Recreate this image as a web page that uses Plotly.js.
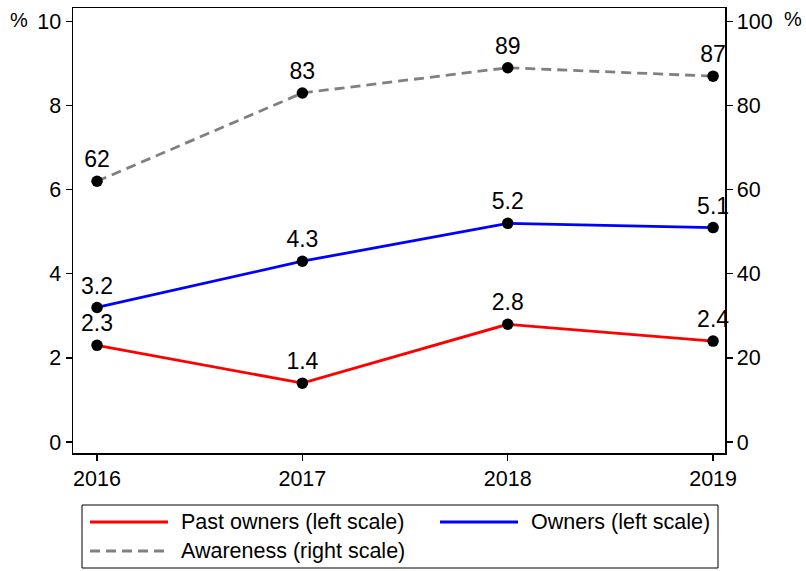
<!DOCTYPE html>
<html>
<head>
<meta charset="utf-8">
<script src="https://cdn.plot.ly/plotly-3.0.1.min.js"></script>
<style>html,body{margin:0;padding:0;background:#fff;}#chart{width:806px;height:571px;}</style>
</head>
<body>
<div id="chart"></div>
<script>
const years = [2016, 2017, 2018, 2019];
const pastOwners = [2.3, 1.4, 2.8, 2.4];
const owners = [3.2, 4.3, 5.2, 5.1];
const awareness = [62, 83, 89, 87];
const leftTicks = [0, 2, 4, 6, 8, 10];
const rightTicks = [0, 20, 40, 60, 80, 100];
const legendNames = ["Past owners (left scale)", "Owners (left scale)", "Awareness (right scale)"];

const FONT = "Liberation Sans, Arial, Helvetica, sans-serif";
const W = 806, H = 571;
const L = 73, R = 725, T = 8, B = 453;
const px = x => (x - L) / (R - L);
const py = y => (B - y) / (B - T);
const DASH = "10px,6px";

function series(y, name, color, dash, axis) {
  return {
    x: years, y: y, name: name, yaxis: axis,
    mode: "lines+markers+text",
    text: y.map(v => String(v)),
    textposition: "top center",
    textfont: {family: FONT, size: 23, color: "#000"},
    line: {color: color, width: 2.8, dash: dash},
    marker: {color: "#000", size: 11.5},
    cliponaxis: false,
    showlegend: false,
    hoverinfo: "x+y"
  };
}

const data = [
  series(pastOwners, legendNames[0], "#ff0000", "solid", "y"),
  series(owners, legendNames[1], "#0000ff", "solid", "y"),
  series(awareness, legendNames[2], "#808080", DASH, "y2")
];

const shapes = [
  {type: "rect", xref: "paper", yref: "paper", x0: px(82), x1: px(718), y0: py(505), y1: py(568),
   line: {color: "#000", width: 1}, fillcolor: "rgba(0,0,0,0)"},
  {type: "line", xref: "paper", yref: "paper", x0: px(90), x1: px(168), y0: py(522), y1: py(522),
   line: {color: "#ff0000", width: 2.8}},
  {type: "line", xref: "paper", yref: "paper", x0: px(440), x1: px(518), y0: py(522), y1: py(522),
   line: {color: "#0000ff", width: 2.8}},
  {type: "line", xref: "paper", yref: "paper", x0: px(90), x1: px(168), y0: py(551), y1: py(551),
   line: {color: "#808080", width: 2.8, dash: DASH}}
];

const annotations = [
  {xref: "paper", yref: "paper", x: px(179), y: py(522), text: legendNames[0], showarrow: false,
   xanchor: "left", yanchor: "middle", font: {family: FONT, size: 21.5, color: "#000"}},
  {xref: "paper", yref: "paper", x: px(529), y: py(522), text: legendNames[1], showarrow: false,
   xanchor: "left", yanchor: "middle", font: {family: FONT, size: 21.5, color: "#000"}},
  {xref: "paper", yref: "paper", x: px(179), y: py(551), text: legendNames[2], showarrow: false,
   xanchor: "left", yanchor: "middle", font: {family: FONT, size: 21.5, color: "#000"}},
  {xref: "paper", yref: "paper", x: px(19), y: py(20), text: "%", showarrow: false,
   xanchor: "center", yanchor: "middle", font: {family: FONT, size: 20, color: "#000"}},
  {xref: "paper", yref: "paper", x: px(793), y: py(19), text: "%", showarrow: false,
   xanchor: "center", yanchor: "middle", font: {family: FONT, size: 20, color: "#000"}}
];

const tickFont = {family: FONT, size: 21.5, color: "#000"};
const layout = {
  width: W, height: H,
  margin: {l: L, r: W - R, t: T, b: H - B, pad: 0},
  paper_bgcolor: "#fff", plot_bgcolor: "#fff",
  font: {family: FONT, size: 21.5, color: "#000"},
  showlegend: false,
  xaxis: {
    range: [2015.883, 2019.058],
    tickvals: years, ticktext: years.map(String),
    ticks: "outside", ticklen: 6, tickwidth: 1.3, tickcolor: "#000",
    showline: true, linecolor: "#000", linewidth: 1.5, mirror: true,
    showgrid: false, zeroline: false,
    tickfont: tickFont
  },
  yaxis: {
    range: [-0.26, 10.32],
    tickvals: leftTicks, ticktext: leftTicks.map(String),
    ticks: "outside", ticklen: 6, tickwidth: 1.3, tickcolor: "#000",
    showline: true, linecolor: "#000", linewidth: 1.5,
    showgrid: false, zeroline: false,
    tickfont: tickFont
  },
  yaxis2: {
    overlaying: "y", side: "right",
    range: [-2.6, 103.2],
    tickvals: rightTicks, ticktext: rightTicks.map(String),
    ticks: "outside", ticklen: 6, tickwidth: 1.3, tickcolor: "#000",
    showline: true, linecolor: "#000", linewidth: 1.5,
    showgrid: false, zeroline: false,
    tickfont: tickFont
  },
  shapes: shapes,
  annotations: annotations
};

Plotly.newPlot("chart", data, layout, {displayModeBar: false, staticPlot: true});
</script>
</body>
</html>
